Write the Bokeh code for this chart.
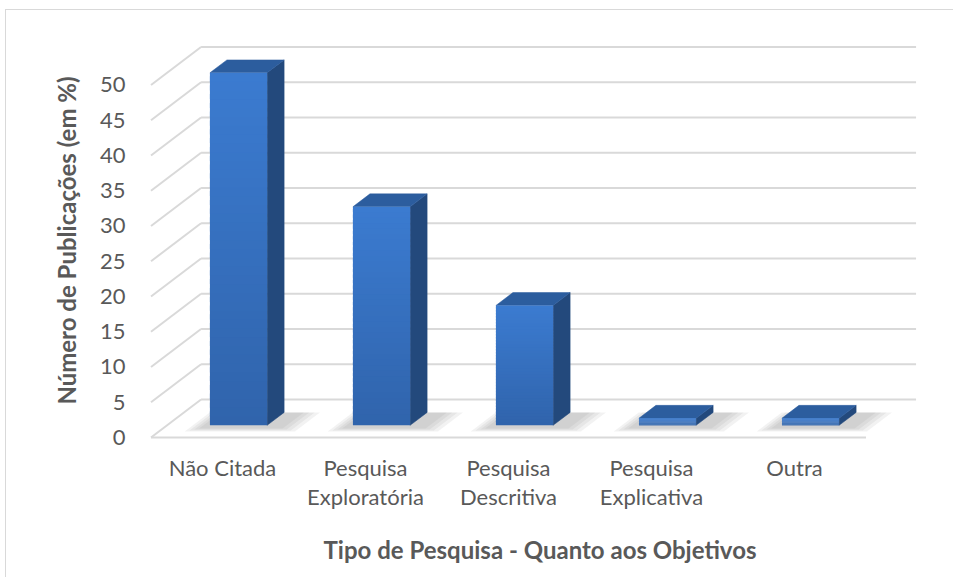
from bokeh.plotting import figure
from bokeh.models import Range1d, FixedTicker
from bokeh.embed import file_html
from bokeh.resources import INLINE

# --- data -------------------------------------------------------------
categories = ["Não Citada", "Pesquisa Exploratória", "Pesquisa Descritiva",
              "Pesquisa Explicativa", "Outra"]
tick_labels = ["Não Citada", "Pesquisa\nExploratória", "Pesquisa\nDescritiva",
               "Pesquisa\nExplicativa", "Outra"]
values = [50, 31, 17, 1, 1]
y_ticks = [0, 5, 10, 15, 20, 25, 30, 35, 40, 45, 50]

# --- 3D projection constants (data units) -----------------------------
DX, DY = 0.35, 5.39        # offset from the front plane to the back wall
T0, T1 = 0.32, 0.66        # depth slice occupied by the bars
HALF = 0.2                 # half width of a bar's front face
X0, X1 = -0.5, len(categories) - 0.5

FONT = "Lato"
TXT = "#595959"
GRID = "#d9d9d9"

# the figure sits inside a thin chart-area border (top and left edges visible)
p = figure(width=948, height=568, output_backend="svg", toolbar_location=None,
           x_range=Range1d(-0.5385, 4.979), y_range=Range1d(-1.844, 57.73),
           min_border_left=139, min_border_right=20, min_border_top=20,
           min_border_bottom=128)
p.styles = {"margin-left": "5px", "margin-top": "9px",
            "border-left": "1px solid #d9d9d9", "border-top": "1px solid #d9d9d9"}
p.outline_line_color = None
p.xgrid.visible = False
p.ygrid.visible = False

# walls: side-wall diagonals and back-wall lines for every tick, plus floor front edge
gx0, gy0, gx1, gy1 = [], [], [], []
for g in y_ticks:
    gx0 += [X0, X0 + DX]
    gy0 += [g, g + DY]
    gx1 += [X0 + DX, X1 + DX]
    gy1 += [g + DY, g + DY]
gx0.append(X0); gy0.append(0); gx1.append(X1); gy1.append(0)
p.segment(gx0, gy0, gx1, gy1, line_color=GRID, line_width=2)


def lerp_color(c0, c1, t):
    a = [int(c0[i:i + 2], 16) for i in (1, 3, 5)]
    b = [int(c1[i:i + 2], 16) for i in (1, 3, 5)]
    return "#%02x%02x%02x" % tuple(round(a[k] + (b[k] - a[k]) * t) for k in range(3))


# soft floor shadows
for layer in range(4):
    grow = 0.025 * (4 - layer)
    xs, ys = [], []
    for i, v in enumerate(values):
        xl, xr = i - HALF - 0.02 - grow, i + HALF + 0.1 + 1.5 * grow
        d0, d1 = T0 - 0.06 - grow, T1
        xs.append([xl + d0 * DX, xr + d0 * DX, xr + d1 * DX, xl + d1 * DX])
        ys.append([d0 * DY, d0 * DY, d1 * DY, d1 * DY])
    p.patches(xs, ys, fill_color="#6f6f6f", fill_alpha=0.09, line_color=None)

# bars
N = 40
for i, v in enumerate(values):
    xl, xr = i - HALF, i + HALF
    # side face
    p.patch([xr + T0 * DX, xr + T1 * DX, xr + T1 * DX, xr + T0 * DX],
            [T0 * DY, T1 * DY, v + T1 * DY, v + T0 * DY],
            fill_color="#23497c", line_color="#23497c", line_width=0.5)
    # top face
    p.patch([xl + T0 * DX, xr + T0 * DX, xr + T1 * DX, xl + T1 * DX],
            [v + T0 * DY, v + T0 * DY, v + T1 * DY, v + T1 * DY],
            fill_color="#2c5d9e", line_color="#2c5d9e", line_width=0.5)
    # front face with a gentle vertical gradient
    lefts, rights, bottoms, tops, cols = [], [], [], [], []
    for k in range(N):
        lefts.append(xl + T0 * DX)
        rights.append(xr + T0 * DX)
        bottoms.append(T0 * DY + v * k / N)
        tops.append(T0 * DY + v * min(k + 1.6, N) / N)
        cols.append(lerp_color("#3064ac", "#3b7bd0", k / (N - 1)))
    p.quad(left=lefts, right=rights, bottom=bottoms, top=tops,
           fill_color=cols, line_color=None)

# axes
p.yaxis.ticker = FixedTicker(ticks=y_ticks)
p.yaxis.axis_line_color = None
p.yaxis.major_tick_line_color = None
p.yaxis.minor_tick_line_color = None
p.yaxis.major_label_standoff = 14
p.yaxis.major_label_text_font = FONT
p.yaxis.major_label_text_font_size = "22px"
p.yaxis.major_label_text_color = TXT
p.yaxis.axis_label = "Número de Publicações (em %)"
p.yaxis.axis_label_text_font = FONT
p.yaxis.axis_label_text_font_style = "bold"
p.yaxis.axis_label_text_font_size = "24px"
p.yaxis.axis_label_text_color = TXT
p.yaxis.axis_label_standoff = 16

p.xaxis.ticker = FixedTicker(ticks=list(range(len(categories))))
p.xaxis.major_label_overrides = {i: t for i, t in enumerate(tick_labels)}
p.xaxis.axis_line_color = None
p.xaxis.major_tick_line_color = None
p.xaxis.minor_tick_line_color = None
p.xaxis.major_label_standoff = -3
p.xaxis.major_label_text_font = FONT
p.xaxis.major_label_text_font_size = "22px"
p.xaxis.major_label_text_line_height = 1.1
p.xaxis.major_label_text_color = TXT
p.xaxis.axis_label = "Tipo de Pesquisa - Quanto aos Objetivos"
p.xaxis.axis_label_text_font = FONT
p.xaxis.axis_label_text_font_style = "bold"
p.xaxis.axis_label_text_font_size = "24px"
p.xaxis.axis_label_text_color = TXT
p.xaxis.axis_label_standoff = 22

open("out.html", "w").write(file_html(p, INLINE))
